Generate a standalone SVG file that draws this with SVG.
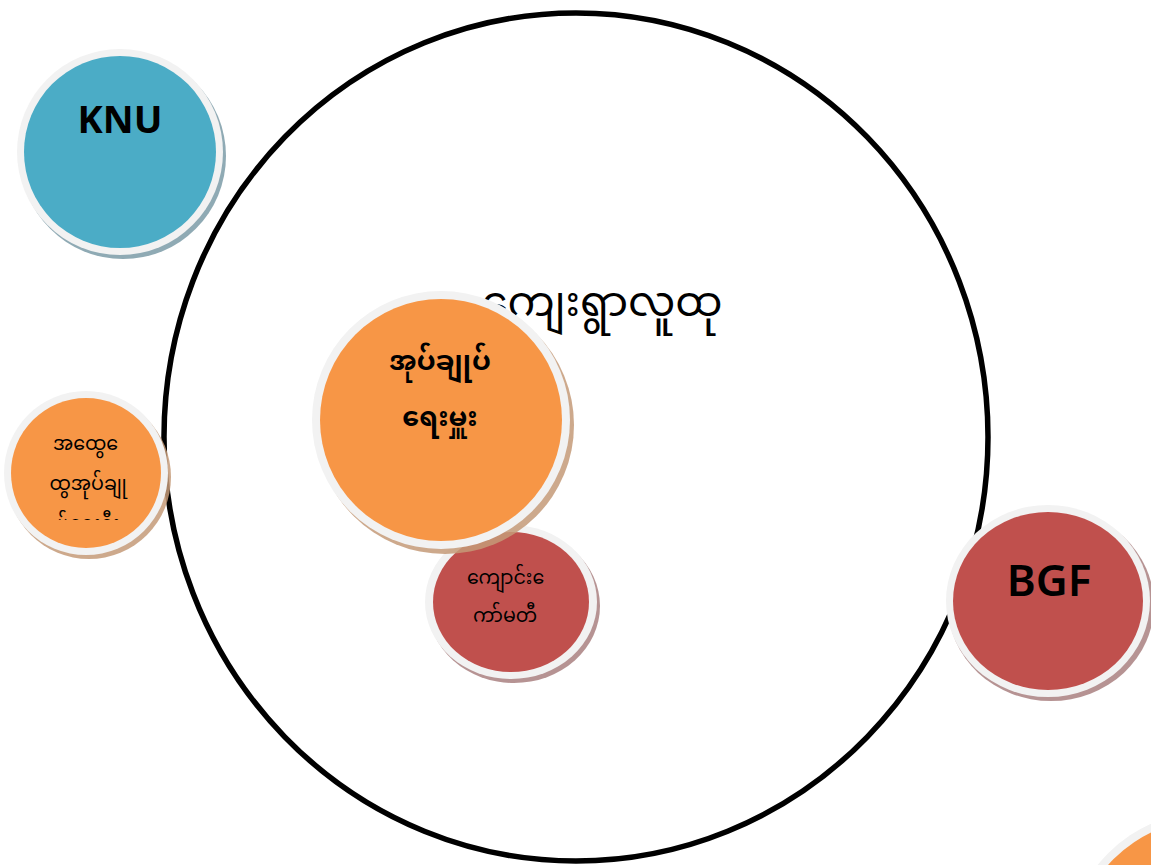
<svg xmlns="http://www.w3.org/2000/svg" width="1151" height="865" viewBox="0 0 1151 865">
<style>
.ring{fill:#f2f2f2}
.blue{fill:#4bacc6}
.orange{fill:#f79646}
.red{fill:#c0504d}
.sh-blue{fill:#8faab4}
.sh-orange{fill:#c49a78;opacity:0.85}
.sh-red{fill:#a98080;opacity:0.85}
.lat{font-family:"Noto Sans","Open Sans","DejaVu Sans",sans-serif;fill:#000;text-anchor:middle}
.my{font-family:"Noto Sans Myanmar","Padauk","Myanmar Text","Noto Sans","DejaVu Sans",sans-serif;fill:#000;text-anchor:middle}
</style>
<defs>
<clipPath id="clipGen"><rect x="0" y="400" width="170" height="120"/></clipPath>
</defs>
<rect width="1151" height="865" fill="#fff"/>
<g id="community">
<ellipse cx="576" cy="437" rx="412" ry="424" fill="#fff" stroke="#000" stroke-width="5.5"/>
<text class="my" x="602" y="316" font-size="42">ကျေးရွာလူထု</text>
</g>
<g id="connectors"></g>
<g id="knu">
<circle cx="123" cy="156" r="103" class="sh-blue"/>
<circle cx="120" cy="152" r="103" class="ring"/>
<circle cx="120" cy="152" r="96" class="blue"/>
<text class="lat" x="120" y="133" font-size="38" font-weight="bold">KNU</text>
</g>
<g id="general-admin">
<circle cx="89" cy="477" r="82" class="sh-orange"/>
<circle cx="86" cy="473" r="82" class="ring"/>
<circle cx="86" cy="473" r="75" class="orange"/>
<g clip-path="url(#clipGen)">
<text class="my" x="88" y="450" font-size="19">အထွေ&#160;ေ</text>
<text class="my" x="88" y="490" font-size="19">ထွအုပ်ချု</text>
<text class="my" x="88" y="530" font-size="19">ပ်ရေးဦး</text>
</g>
</g>
<g id="school-committee">
<ellipse cx="514" cy="606" rx="86" ry="77" class="sh-red"/>
<ellipse cx="511" cy="602" rx="86" ry="77" class="ring"/>
<ellipse cx="511" cy="602" rx="78" ry="70" class="red"/>
<text class="my" x="508" y="584" font-size="19">ကျောင်း&#160;ေ</text>
<text class="my" x="505" y="622" font-size="19">ကာ်မတီ</text>
</g>
<g id="administrator">
<circle cx="445" cy="425" r="129" class="sh-orange"/>
<circle cx="441" cy="420" r="129" class="ring"/>
<circle cx="441" cy="420" r="121" class="orange"/>
<text class="my" x="440" y="370" font-size="27" font-weight="bold">အုပ်ချုပ်</text>
<text class="my" x="440" y="426" font-size="27" font-weight="bold">ရေးမှူး</text>
</g>
<g id="bgf">
<ellipse cx="1051" cy="605" rx="103" ry="96" class="sh-red"/>
<ellipse cx="1048" cy="601" rx="102" ry="96" class="ring"/>
<ellipse cx="1048" cy="601" rx="95" ry="89" class="red"/>
<text class="lat" x="1049" y="596" font-size="44" font-weight="600">BGF</text>
</g>
<g id="partial-orange">
<circle cx="1210" cy="955" r="144" class="ring"/>
<circle cx="1210" cy="955" r="136" class="orange"/>
</g>
</svg>
